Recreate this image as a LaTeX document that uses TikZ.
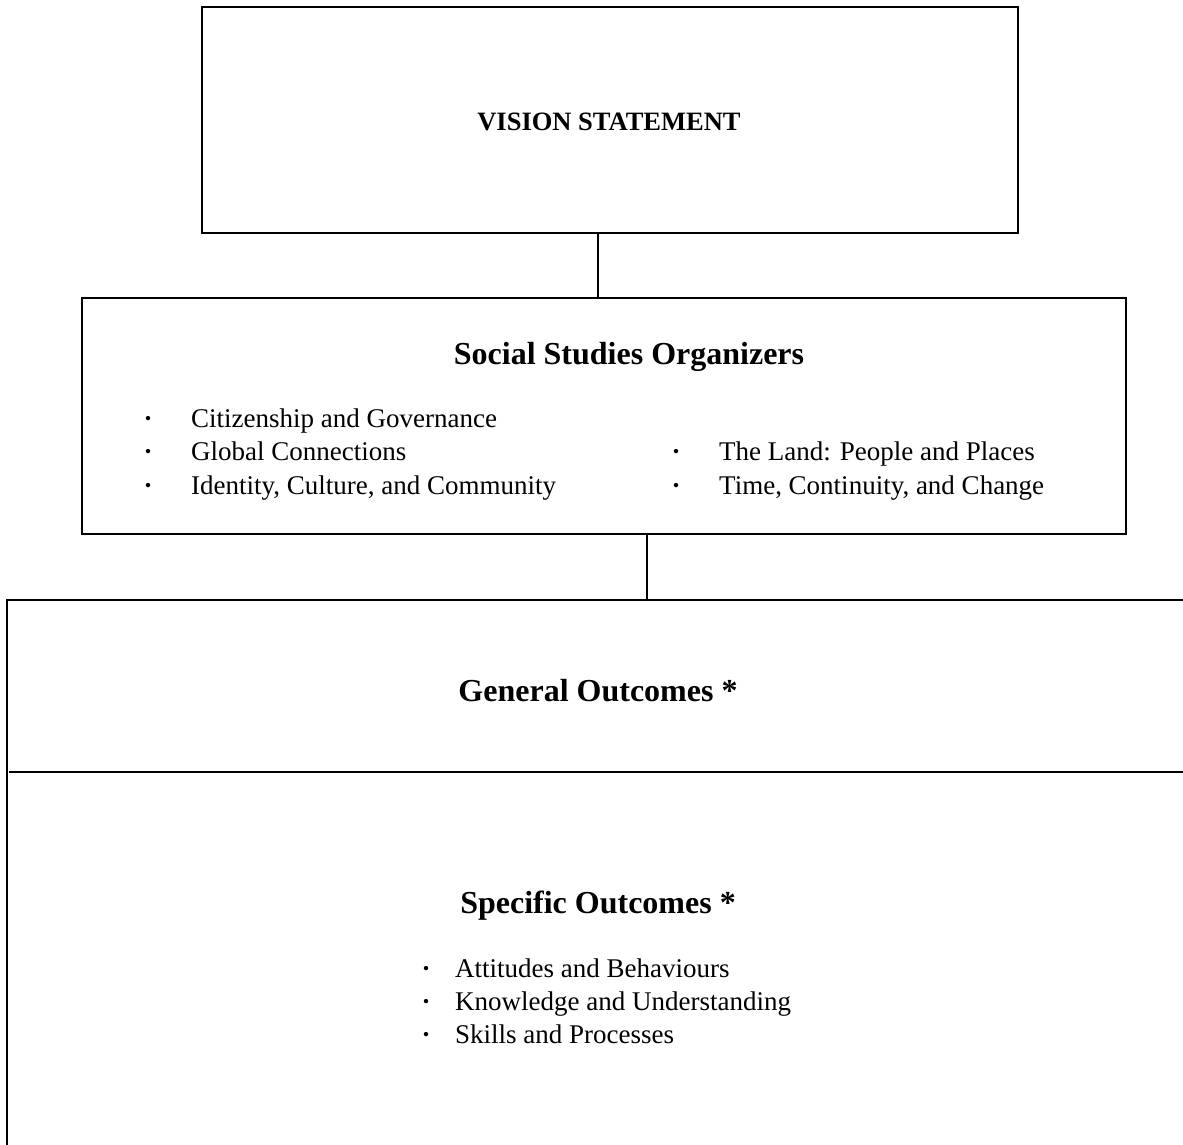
\documentclass[tikz,border=0pt]{standalone}
\usepackage{fontspec}
\setmainfont{Liberation Serif}
\begin{document}
\begin{tikzpicture}[x=1pt,y=-1pt,
  frame/.style={draw=black,line width=2.3pt,inner sep=0pt},
  rule/.style={line width=2.3pt},
  body/.style={inner sep=0pt,anchor=base west,font=\fontsize{27}{32}\selectfont},
  bul/.style={inner sep=0pt,anchor=base,font=\fontsize{27}{32}\selectfont\bfseries},
  head/.style={inner sep=0pt,anchor=base,font=\fontsize{32}{38}\selectfont\bfseries},
  small head/.style={inner sep=0pt,anchor=base,font=\fontsize{26.5}{32}\selectfont\bfseries}]
\useasboundingbox (0,0) rectangle (1183,1144);
% boxes
\node[frame,minimum width=816pt,minimum height=226pt] (vision) at (610,120) {};
\node[frame,minimum width=1044pt,minimum height=236pt] (org) at (604,416) {};
% open outcomes box
\coordinate (gtl) at (7,600);
\coordinate (gtr) at (1190,600);
\coordinate (gbl) at (7,1150);
\coordinate (dl) at (9,772);
\coordinate (dr) at (1190,772);
\draw[rule] (gtr) -- (gtl) -- (gbl);
\draw[rule] (dl) -- (dr);
% connectors
\coordinate (c1) at (598,0);
\coordinate (c2) at (647,0);
\draw[rule] (vision.south -| c1) -- (org.north -| c1);
\draw[rule] (org.south -| c2) -- (gtl -| c2);
% texts
\node[small head] (vt) at (609,130) {VISION STATEMENT};
\node[head] (ot) at (629,364) {Social Studies Organizers};
\node[bul] (b1) at (148,427) {·};
\node[body] (t1) at (191,427) {Citizenship and Governance};
\node[bul] (b2) at (148,460) {·};
\node[body] (t2) at (191,460) {Global Connections};
\node[bul] (b3) at (148,494) {·};
\node[body] (t3) at (191,494) {Identity, Culture, and Community};
\node[bul] (b4) at (676,460) {·};
\node[body] (t4) at (719,460) {The Land: People and Places};
\node[bul] (b5) at (676,494) {·};
\node[body] (t5) at (719,494) {Time, Continuity, and Change};
\node[head] (gt) at (598,701) {General Outcomes *};
\node[head] (st) at (598,913) {Specific Outcomes *};
\node[bul] (b6) at (426,977) {·};
\node[body] (t6) at (455,977) {Attitudes and Behaviours};
\node[bul] (b7) at (426,1010) {·};
\node[body] (t7) at (455,1010) {Knowledge and Understanding};
\node[bul] (b8) at (426,1043) {·};
\node[body] (t8) at (455,1043) {Skills and Processes};
\end{tikzpicture}
\end{document}
